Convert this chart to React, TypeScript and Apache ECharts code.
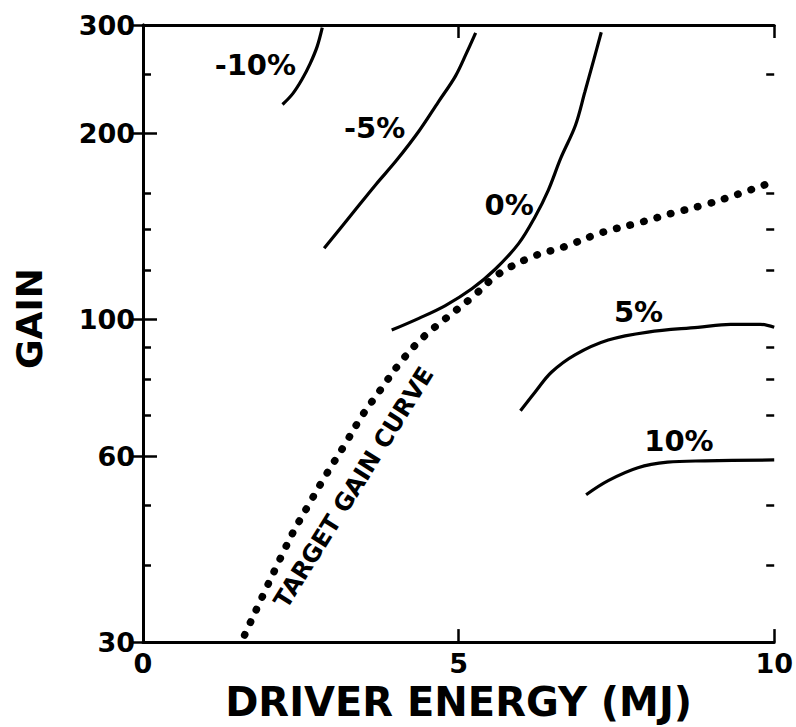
import React, { useEffect, useRef } from "react";
import * as echarts from "echarts";

const xMin = 0;
const xMax = 10;
const xInterval = 5;
const yMin = 30;
const yMax = 300;
const yMajorTicks = [30, 60, 100, 200, 300];
const yMinorTicks = [40, 50, 70, 80, 90, 120, 140, 160, 250];

const minus10Curve = [[2.21, 223], [2.37, 232], [2.52, 245], [2.65, 260], [2.76, 277], [2.84, 297]];
const minus5Curve = [[2.87, 130.4], [3.31, 148.2], [3.69, 165.5], [4.01, 180.7], [4.37, 201.8], [4.68, 225.2], [4.95, 247.9], [5.13, 270.8], [5.27, 291.3]];
const zeroCurve = [[3.94, 96.1], [4.37, 100.4], [4.79, 105.3], [5.21, 112.1], [5.58, 120.6], [5.95, 132.7], [6.21, 146.6], [6.42, 161.9], [6.62, 182.7], [6.85, 206.2], [7.0, 233.6], [7.13, 261], [7.26, 292]];
const plus5Curve = [[5.98, 71.1], [6.21, 76.2], [6.47, 82.1], [6.85, 87.7], [7.37, 92.6], [8.0, 95.4], [8.79, 97.1], [9.31, 98.2], [9.78, 98.2], [10, 97.1]];
const plus10Curve = [[7.02, 52.0], [7.37, 54.8], [7.84, 57.5], [8.31, 58.7], [8.9, 59.0], [10, 59.2]];
const targetGainCurve = [[1.61, 30.8], [2.32, 44.0], [2.63, 50.2], [2.9, 56.0], [3.19, 62.5], [3.47, 69.8], [3.77, 77.1], [4.05, 84.5], [4.32, 91.0], [4.53, 95.4], [4.76, 99.7], [5.21, 108.5], [5.63, 118.4], [6.18, 126.5], [6.69, 131.3], [7.26, 138.2], [7.92, 144], [8.39, 148.7], [8.94, 153.8], [9.42, 159.5], [9.95, 166.6]];

const labelNames = ["-10%", "-5%", "0%", "5%", "10%", "TARGET GAIN CURVE"];
const labelX = [1.78, 3.67, 5.8, 7.85, 8.49, 3.34];
const labelY = [258, 204, 153, 102.7, 63.5, 53.4];
const labelRotate = [0, 0, 0, 0, 0, 58];
const labelSize = [29, 29, 29, 29, 29, 24];

const FONT = "'DejaVu Sans', sans-serif";
const BLACK = "#000";

export default function App() {
  const ref = useRef<HTMLDivElement>(null);
  useEffect(() => {
    if (!ref.current) return;
    const chart = echarts.init(ref.current, undefined, { renderer: "svg" });
    const solid = (data: number[][]) => ({
      type: "line",
      data,
      showSymbol: false,
      smooth: 0.35,
      lineStyle: { color: BLACK, width: 3.2 },
      silent: true,
    });
    const yBase = (extra: any) => ({
      type: "log",
      logBase: 10,
      min: yMin,
      max: yMax,
      splitLine: { show: false },
      ...extra,
    });
    const option: any = {
      animation: false,
      backgroundColor: "#fff",
      grid: { left: 143, right: 19, top: 25, bottom: 75, containLabel: false },
      xAxis: [
        {
          type: "value",
          position: "bottom",
          min: xMin,
          max: xMax,
          interval: xInterval,
          splitLine: { show: false },
          axisLine: { show: true, lineStyle: { color: BLACK, width: 3 } },
          axisTick: { show: true, inside: true, length: 13, lineStyle: { color: BLACK, width: 2.5 } },
          axisLabel: { color: BLACK, fontSize: 27, fontWeight: "bold", fontFamily: FONT, margin: 8 },
          name: "DRIVER ENERGY (MJ)",
          nameLocation: "middle",
          nameGap: 36,
          nameTextStyle: { color: BLACK, fontSize: 40, fontWeight: "bold", fontFamily: FONT },
        },
        {
          type: "value",
          position: "top",
          min: xMin,
          max: xMax,
          interval: xInterval,
          splitLine: { show: false },
          axisLine: { show: true, lineStyle: { color: BLACK, width: 3 } },
          axisTick: { show: true, inside: true, length: 13, lineStyle: { color: BLACK, width: 2.5 } },
          axisLabel: { show: false },
        },
      ],
      yAxis: [
        yBase({
          position: "left",
          axisLine: { show: true, lineStyle: { color: BLACK, width: 3 } },
          axisTick: { show: true, inside: true, length: 14, customValues: yMajorTicks, lineStyle: { color: BLACK, width: 2.5 } },
          axisLabel: {
            show: true,
            customValues: yMajorTicks,
            formatter: (v: number) => String(Math.round(v)),
            color: BLACK,
            fontSize: 27,
            fontWeight: "bold",
            fontFamily: FONT,
            margin: 8,
          },
          name: "GAIN",
          nameLocation: "middle",
          nameRotate: 90,
          nameGap: 96,
          nameTextStyle: { color: BLACK, fontSize: 36, fontWeight: "bold", fontFamily: FONT, padding: [0, 0, 0, 30] },
        }),
        yBase({
          position: "right",
          axisLine: { show: true, lineStyle: { color: BLACK, width: 3 } },
          axisTick: { show: true, inside: true, length: 14, customValues: yMajorTicks, lineStyle: { color: BLACK, width: 2.5 } },
          axisLabel: { show: false },
        }),
        yBase({
          position: "left",
          axisLine: { show: false },
          axisTick: { show: true, inside: true, length: 8, customValues: yMinorTicks, lineStyle: { color: BLACK, width: 2.5 } },
          axisLabel: { show: false },
        }),
        yBase({
          position: "right",
          axisLine: { show: false },
          axisTick: { show: true, inside: true, length: 8, customValues: yMinorTicks, lineStyle: { color: BLACK, width: 2.5 } },
          axisLabel: { show: false },
        }),
      ],
      series: [
        solid(minus10Curve),
        solid(minus5Curve),
        solid(zeroCurve),
        solid(plus5Curve),
        solid(plus10Curve),
        {
          type: "line",
          data: targetGainCurve,
          showSymbol: false,
          smooth: 0.35,
          silent: true,
          lineStyle: { color: BLACK, width: 7.5, type: [0.5, 13.5], cap: "round" },
        },
        {
          type: "scatter",
          symbolSize: 0,
          silent: true,
          itemStyle: { opacity: 1 },
          data: labelNames.map((n, i) => ({
            name: n,
            value: [labelX[i], labelY[i]],
            label: { rotate: labelRotate[i], fontSize: labelSize[i] },
          })),
          label: {
            show: true,
            position: "inside",
            formatter: (p: any) => p.name,
            color: BLACK,
            opacity: 1,
            fontWeight: "bold",
            fontFamily: FONT,
          },
        },
      ],
    };
    chart.setOption(option);
    return () => chart.dispose();
  }, []);
  return (
    <div
      ref={ref}
      style={{ position: "fixed", left: 0, top: 0, width: 796, height: 727, background: "#fff" }}
    />
  );
}
